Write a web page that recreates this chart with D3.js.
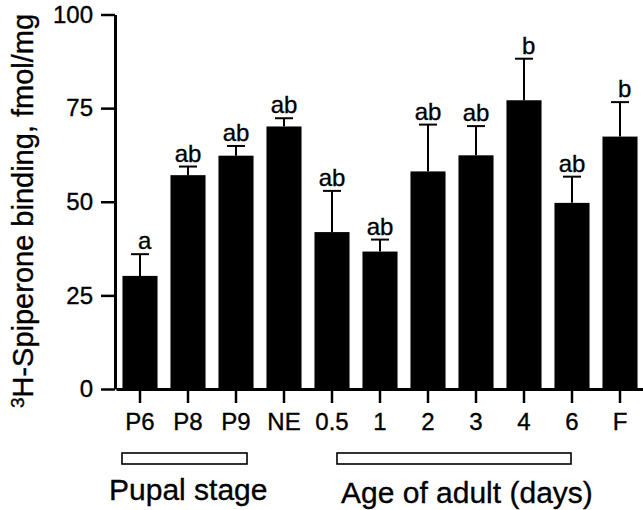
<!DOCTYPE html>
<html>
<head>
<meta charset="utf-8">
<script src="https://cdn.jsdelivr.net/npm/d3@7"></script>
<style>
  body { margin: 0; background: #fff; }
  svg { display: block; font-family: "Liberation Sans", Arial, Helvetica, sans-serif; }
  svg text { stroke: #000; stroke-width: 0.35px; }
</style>
</head>
<body>
<div id="plot"></div>
<script>
var w = 643;
var h = 510;

// data
var categories = ["P6", "P8", "P9", "NE", "0.5", "1", "2", "3", "4", "6", "F"];
var means = [30.2, 57.1, 62.3, 70.1, 41.9, 36.7, 58.1, 62.4, 77.1, 49.7, 67.4];
var errors = [5.8, 2.3, 2.6, 2.2, 11.0, 3.2, 12.5, 7.8, 11.1, 7.0, 9.2];
var letters = ["a", "ab", "ab", "ab", "ab", "ab", "ab", "ab", "b", "ab", "b"];
var yTicks = [0, 25, 50, 75, 100];
var groupLabels = ["Pupal stage", "Age of adult (days)"];
var groupFrom = ["P6", "0.5"];
var groupTo = ["P9", "6"];

var data = categories.map(function (c, i) {
  return { cat: c, mean: means[i], err: errors[i], letter: letters[i] };
});

var xScale = d3
  .scaleBand()
  .domain(categories)
  .range([116, 644])
  .paddingInner(0.27)
  .paddingOuter(0.135);

var yScale = d3.scaleLinear().domain([0, 100]).range([389, 14.5]);

var svg = d3.select("#plot").append("svg").attr("width", w).attr("height", h);

var cx = function (d) { return xScale(d) + xScale.bandwidth() / 2; };

// bars
svg
  .selectAll("rect.bar")
  .data(data)
  .enter()
  .append("rect")
  .attr("class", "bar")
  .attr("x", (d) => xScale(d.cat))
  .attr("y", (d) => yScale(d.mean))
  .attr("width", xScale.bandwidth())
  .attr("height", (d) => yScale(0) - yScale(d.mean))
  .attr("fill", "#000");

// error bars (upper only)
var eb = svg.selectAll("g.err").data(data).enter().append("g").attr("class", "err");
eb.append("line")
  .attr("x1", (d) => cx(d.cat))
  .attr("x2", (d) => cx(d.cat))
  .attr("y1", (d) => yScale(d.mean))
  .attr("y2", (d) => yScale(d.mean + d.err))
  .attr("stroke", "#000")
  .attr("stroke-width", 2);
eb.append("line")
  .attr("x1", (d) => cx(d.cat) - 9)
  .attr("x2", (d) => cx(d.cat) + 9)
  .attr("y1", (d) => yScale(d.mean + d.err))
  .attr("y2", (d) => yScale(d.mean + d.err))
  .attr("stroke", "#000")
  .attr("stroke-width", 2);

// significance letters
svg
  .selectAll("text.sig")
  .data(data)
  .enter()
  .append("text")
  .attr("class", "sig")
  .text((d) => d.letter)
  .attr("x", (d) => (d.letter.length > 1 ? cx(d.cat) : cx(d.cat) - 2))
  .attr("y", (d) => yScale(d.mean + d.err) - 5)
  .attr("text-anchor", (d) => (d.letter.length > 1 ? "middle" : "start"))
  .attr("font-size", "24px")
  .attr("fill", "#000");

// axes
var xAxis = d3.axisBottom(xScale).tickSize(14).tickSizeOuter(0).tickPadding(10);
var yAxis = d3.axisLeft(yScale).tickValues(yTicks).tickSize(14).tickSizeOuter(0).tickPadding(8);

var gx = svg.append("g").attr("transform", "translate(0," + yScale(0) + ")").call(xAxis);
var gy = svg.append("g").attr("transform", "translate(115,0)").call(yAxis);

[gx, gy].forEach(function (g) {
  g.select(".domain").attr("stroke", "#000").attr("stroke-width", 3);
  g.selectAll(".tick line").attr("stroke", "#000").attr("stroke-width", 2.5);
  g.selectAll(".tick text").attr("fill", "#000").attr("font-family", null);
});
gx.selectAll(".tick text").attr("font-size", "24px");
gy.selectAll(".tick text").attr("font-size", "24px");

// y axis title
var yt = svg
  .append("text")
  .attr("transform", "translate(33,211) rotate(-90)")
  .attr("text-anchor", "middle")
  .attr("font-size", "29px")
  .attr("fill", "#000");
yt.append("tspan").attr("font-size", "19px").attr("dy", "-9").text("3");
yt.append("tspan").attr("dy", "9").text("H-Spiperone binding, fmol/mg");

// group brackets below the axis
var boxX0 = [cx(groupFrom[0]) - 18, cx(groupFrom[1]) + 5];
var boxX1 = [cx(groupTo[0]) + 11, cx(groupTo[1]) - 1];
var textX = [109, 341];
var textY = [500, 503];

groupLabels.forEach(function (lab, i) {
  svg
    .append("rect")
    .attr("x", boxX0[i])
    .attr("y", 453)
    .attr("width", boxX1[i] - boxX0[i])
    .attr("height", 11)
    .attr("fill", "#fff")
    .attr("stroke", "#000")
    .attr("stroke-width", 1.6);
  svg
    .append("text")
    .attr("x", textX[i])
    .attr("y", textY[i])
    .attr("font-size", "30px")
    .attr("fill", "#000")
    .text(lab);
});
</script>
</body>
</html>
